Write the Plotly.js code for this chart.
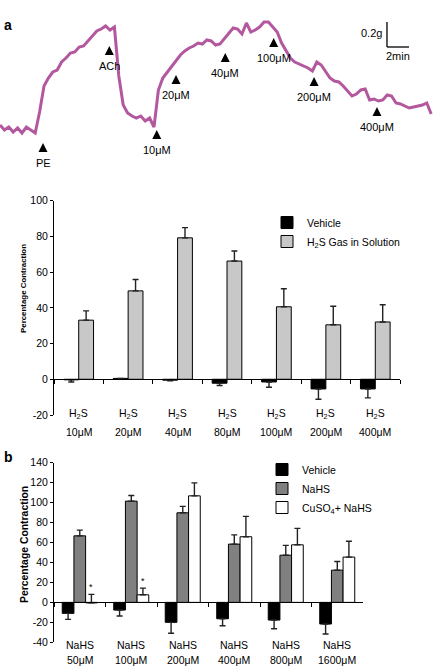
<!DOCTYPE html>
<html>
<head>
<meta charset="utf-8">
<script src="https://cdn.plot.ly/plotly-3.0.1.min.js"></script>
<style>html,body{margin:0;padding:0;background:#fff;}#chart{width:433px;height:667px;}</style>
</head>
<body>
<div id="chart"></div>
<script>
// ---------- Panel a (top): isometric tension trace ----------
const traceStepMin = 0.4; // sampling interval of the read-off trace (min)
const traceForceG = [
  0.04, 0, 0.024, -0.016, 0.016, -0.024, 0.024, 0, -0.024, 0.144,
  0.352, 0.416, 0.464, 0.48, 0.544, 0.576, 0.616, 0.624, 0.664, 0.672,
  0.712, 0.752, 0.792, 0.808, 0.832, 0.8, 0.824, 0.432, 0.2, 0.136,
  0.112, 0.096, 0.112, 0.072, 0.096, 0.024, 0.32, 0.416, 0.464, 0.512,
  0.552, 0.6, 0.632, 0.656, 0.672, 0.696, 0.688, 0.72, 0.712, 0.68,
  0.688, 0.728, 0.768, 0.816, 0.808, 0.768, 0.856, 0.784, 0.8, 0.824,
  0.864, 0.864, 0.824, 0.784, 0.696, 0.64, 0.576, 0.544, 0.528, 0.512,
  0.496, 0.472, 0.544, 0.52, 0.464, 0.416, 0.392, 0.384, 0.352, 0.312,
  0.272, 0.288, 0.32, 0.328, 0.24, 0.248, 0.232, 0.24, 0.28, 0.272,
  0.216, 0.208, 0.192, 0.176, 0.184, 0.192, 0.2, 0.216, 0.128
];
const eventLabels = ["PE", "ACh", "10μM", "20μM", "40μM", "100μM", "200μM", "400μM"];
const eventTimeMin = [3.91, 9.94, 14.25, 16.0, 20.48, 24.88, 28.55, 34.27];
const eventForceG = [-0.104, 0.672, 0.0, 0.44, 0.616, 0.736, 0.424, 0.184];
const scaleBarMin = 2;
const scaleBarG = 0.2;

// ---------- Panel a (bottom): H2S gas ----------
const h2sTop = ["H<sub>2</sub>S","H<sub>2</sub>S","H<sub>2</sub>S","H<sub>2</sub>S","H<sub>2</sub>S","H<sub>2</sub>S","H<sub>2</sub>S"];
const h2sDose = ["10μM", "20μM", "40μM", "80μM", "100μM", "200μM", "400μM"];
const h2sVehicle = [-0.3, 0.5, -0.5, -2.2, -1.5, -5.4, -5.4];
const h2sVehicleErr = [1.2, 0.3, 0.3, 1.3, 3, 5.8, 5];
const h2sGas = [33.1, 49.5, 79.2, 66.2, 40.6, 30.5, 32.1];
const h2sGasErr = [5.2, 6.4, 5.7, 5.6, 10.1, 10.4, 9.6];
const h2sTickVals = [-20, 0, 20, 40, 60, 80, 100];
const h2sTickText = ["-20", "0", "20", "40", "60", "80", "100"];

// ---------- Panel b: NaHS ----------
const nahsTop = ["NaHS", "NaHS", "NaHS", "NaHS", "NaHS", "NaHS"];
const nahsDose = ["50μM", "100μM", "200μM", "400μM", "800μM", "1600μM"];
const nahsVehicle = [-11, -7.7, -20, -16.4, -17.7, -21.7];
const nahsVehicleErr = [6, 6, 11, 7, 8.7, 10];
const nahsNaHS = [66.7, 101.5, 89.8, 58.4, 47.3, 32.3];
const nahsNaHSErr = [5.7, 5.7, 6.4, 9.3, 9.8, 8.7];
const nahsCuSO4 = [-0.5, 7.6, 106.8, 65.8, 57.7, 45.4];
const nahsCuSO4Err = [8.5, 6.7, 13, 20.4, 16.5, 15.8];
const nahsSig = ["*", "*", "", "", "", ""];
const nahsTickVals = [-40, -20, 0, 20, 40, 60, 80, 100, 120, 140];
const nahsTickText = ["-40", "-20", "0", "20", "40", "60", "80", "100", "120", "140"];
const yTitleText = "Percentage Contraction";

// ---------- layout geometry ----------
const W = 433, H = 667;
const FONT = "Liberation Sans, Arial, Helvetica, sans-serif";
const domAx = [54/433, 400/433], domAy = [1-415/667, 1-200.7/667], rangeA = [-20, 100];
const domBx = [54/433, 363/433], domBy = [1-642.3/667, 1-462.7/667], rangeB = [-40, 140];
const domTy = [1-170/667, 1-10/667];
const zeroPos = (dom, r) => dom[0] + (dom[1]-dom[0]) * (0 - r[0]) / (r[1]-r[0]);

// error bars: Vehicle series point down, treatment series point up
const errStyle = (e, dir) => ({type:'data', symmetric:false,
  array: e.map(x => dir === 'up' ? x : 0), arrayminus: e.map(x => dir === 'down' ? x : 0),
  color:'#222', thickness:1.4, width:3});
const barLine = {color:'#000', width:1};

const traces = [
  {type:'scatter', mode:'lines', x0:0, dx:traceStepMin, y:traceForceG, xaxis:'x3', yaxis:'y3',
   line:{color:'#b3589e', width:3}, showlegend:false, hoverinfo:'skip'},
  {type:'scatter', mode:'markers', x:eventTimeMin, y:eventForceG, xaxis:'x3', yaxis:'y3',
   marker:{symbol:'arrow-up', size:9, color:'#000'}, showlegend:false, hoverinfo:'skip'},
  {type:'bar', name:'Vehicle', x:h2sDose, y:h2sVehicle, xaxis:'x', yaxis:'y',
   offset:-0.3, width:0.3, marker:{color:'#000', line:barLine}, error_y:errStyle(h2sVehicleErr,'down'), legend:'legend'},
  {type:'bar', name:'H<sub>2</sub>S Gas in Solution', x:h2sDose, y:h2sGas, xaxis:'x', yaxis:'y',
   offset:0, width:0.3, marker:{color:'#c8c8c8', line:barLine}, error_y:errStyle(h2sGasErr,'up'), legend:'legend'},
  {type:'bar', name:'Vehicle', x:nahsDose, y:nahsVehicle, xaxis:'x2', yaxis:'y2',
   offset:-0.34, width:0.227, marker:{color:'#000', line:barLine}, error_y:errStyle(nahsVehicleErr,'down'), legend:'legend2'},
  {type:'bar', name:'NaHS', x:nahsDose, y:nahsNaHS, xaxis:'x2', yaxis:'y2',
   offset:-0.113, width:0.227, marker:{color:'#808080', line:barLine}, error_y:errStyle(nahsNaHSErr,'up'), legend:'legend2'},
  {type:'bar', name:'CuSO<sub>4</sub>+ NaHS', x:nahsDose, y:nahsCuSO4, xaxis:'x2', yaxis:'y2',
   offset:0.113, width:0.227, marker:{color:'#ffffff', line:barLine}, error_y:errStyle(nahsCuSO4Err,'up'), legend:'legend2'}
];

const annotations = [];
annotations.push({xref:'paper', yref:'paper', x:2/W, y:1-25/H, xanchor:'left', yanchor:'middle', text:'<b>a</b>', showarrow:false, font:{size:14}});
annotations.push({xref:'paper', yref:'paper', x:2/W, y:1-457/H, xanchor:'left', yanchor:'middle', text:'<b>b</b>', showarrow:false, font:{size:14}});
annotations.push({xref:'paper', yref:'paper', x:24/W, y:1-289/H, xanchor:'center', yanchor:'middle', textangle:-90,
  text:'<b>'+yTitleText+'</b>', showarrow:false, font:{size:7.9}});
annotations.push({xref:'paper', yref:'paper', x:24/W, y:1-545/H, xanchor:'center', yanchor:'middle', textangle:-90,
  text:'<b>'+yTitleText+'</b>', showarrow:false, font:{size:10.4}});
eventLabels.forEach((t, i) => annotations.push({xref:'x3', yref:'y3', x:eventTimeMin[i], y:eventForceG[i],
  yanchor:'top', yshift:-12, text:t, showarrow:false, font:{size:11}}));
const sbX = 35.18, sbY = 0.664;
annotations.push({xref:'x3', yref:'y3', x:sbX, y:sbY+scaleBarG/2, xanchor:'right', xshift:-3, yshift:1, text:scaleBarG+'g', showarrow:false, font:{size:11}});
annotations.push({xref:'x3', yref:'y3', x:sbX+scaleBarMin/2, y:sbY, yanchor:'top', yshift:-1, text:scaleBarMin+'min', showarrow:false, font:{size:11}});
h2sDose.forEach((d, i) => {
  annotations.push({xref:'x', yref:'y', x:d, y:rangeA[0], yanchor:'middle', yshift:1, text:h2sTop[i], showarrow:false, font:{size:10.5}});
  annotations.push({xref:'x', yref:'y', x:d, y:rangeA[0], yanchor:'middle', yshift:-17, text:d, showarrow:false, font:{size:10.5}});
});
nahsDose.forEach((d, i) => {
  annotations.push({xref:'x2', yref:'y2', x:d, y:rangeB[0], yanchor:'middle', yshift:-3, text:nahsTop[i], showarrow:false, font:{size:10.5}});
  annotations.push({xref:'x2', yref:'y2', x:d, y:rangeB[0], yanchor:'middle', yshift:-18, text:d, showarrow:false, font:{size:10.5}});
  if (nahsSig[i]) annotations.push({xref:'x2', yref:'y2', x:i + 0.113 + 0.227/2, y:Math.max(nahsCuSO4[i], 0) + nahsCuSO4Err[i],
    yanchor:'bottom', yshift:0, text:nahsSig[i], showarrow:false, font:{size:9}});
});

const catAxis = (dom, pos) => ({domain:dom, anchor:'free', position:pos, type:'category', showline:true, linecolor:'#000', linewidth:1,
  ticks:'outside', ticklen:4, tickcolor:'#000', tickson:'boundaries', showticklabels:false, showgrid:false, zeroline:false, fixedrange:true});
const valAxis = (dom, r, anchor, tv, tt) => ({domain:dom, range:r, tickmode:'array', tickvals:tv, ticktext:tt, anchor:anchor,
  showline:true, linecolor:'#000', linewidth:1, ticks:'outside', ticklen:3, tickcolor:'#000', showgrid:false, zeroline:false,
  tickfont:{size:10.5}, fixedrange:true});

const layout = {
  width:W, height:H, margin:{l:0, r:0, t:0, b:0}, paper_bgcolor:'#fff', plot_bgcolor:'rgba(0,0,0,0)',
  font:{family:FONT, color:'#000'}, barmode:'group',
  xaxis: catAxis(domAx, zeroPos(domAy, rangeA)),
  yaxis: valAxis(domAy, rangeA, 'x', h2sTickVals, h2sTickText),
  xaxis2: catAxis(domBx, zeroPos(domBy, rangeB)),
  yaxis2: valAxis(domBy, rangeB, 'x2', nahsTickVals, nahsTickText),
  xaxis3: {domain:[0,1], range:[0, W/11], visible:false, fixedrange:true},
  yaxis3: {domain:domTy, range:[-0.32, 0.96], visible:false, anchor:'x3', fixedrange:true},
  legend: {x:267/W, y:1-208/H, xanchor:'left', yanchor:'top', bgcolor:'rgba(0,0,0,0)', font:{size:10.5}, tracegroupgap:0},
  legend2: {x:262/W, y:1-455/H, xanchor:'left', yanchor:'top', bgcolor:'rgba(0,0,0,0)', font:{size:10.5}, tracegroupgap:0},
  shapes: [
    {type:'line', xref:'x3', yref:'y3', x0:sbX, x1:sbX, y0:sbY, y1:sbY+scaleBarG, line:{color:'#000', width:1.3}},
    {type:'line', xref:'x3', yref:'y3', x0:sbX, x1:sbX+scaleBarMin, y0:sbY, y1:sbY, line:{color:'#000', width:1.3}}
  ],
  annotations: annotations,
  showlegend:true
};

Plotly.newPlot('chart', traces, layout, {displayModeBar:false, staticPlot:true});
</script>
</body>
</html>
